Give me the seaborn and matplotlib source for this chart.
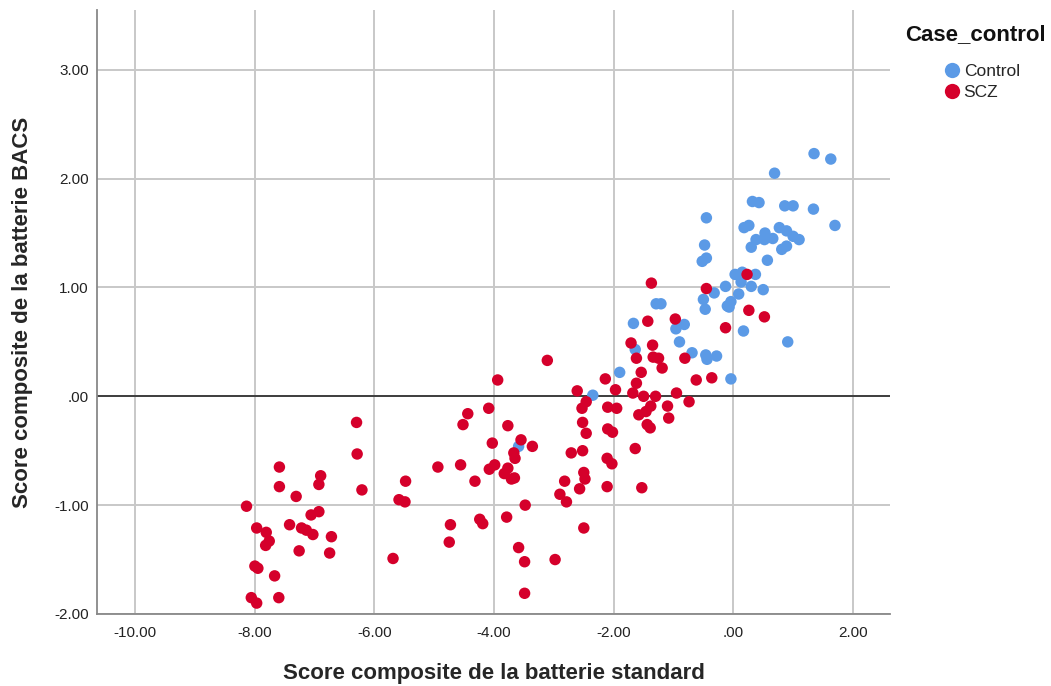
"""
Scatter: BACS composite vs standard battery composite, by group
"""
import pandas as pd
import numpy as np
import matplotlib.pyplot as plt
import seaborn as sns
from matplotlib.ticker import FuncFormatter

# Control group (standard battery, BACS)
control_x = [-2.35, -3.59, -0.45, -0.32, -0.13, -0.50, -0.47, -0.10, -1.29, -1.21,
             -1.67, -0.96, -0.82, -0.90, -1.64, -0.69, -0.46, -0.44, -0.28, -0.04,
             -1.90, 1.35, 1.63, 0.69, 0.32, 0.43, 0.86, 1.00, 1.34, -0.45,
             1.70, 0.18, 0.26, 0.77, 0.89, 0.53, 0.66, 0.52, 0.38, 1.00,
             1.10, 0.89, 0.81, 0.30, -0.48, -0.52, 0.57, 0.03, 0.15, 0.37,
             0.13, 0.30, 0.50, 0.09, -0.04, -0.07, 0.17, 0.91]
control_y = [0.01, -0.46, 1.27, 0.95, 1.01, 0.89, 0.80, 0.83, 0.85, 0.85,
             0.67, 0.62, 0.66, 0.50, 0.43, 0.40, 0.38, 0.34, 0.37, 0.16,
             0.22, 2.23, 2.18, 2.05, 1.79, 1.78, 1.75, 1.75, 1.72, 1.64,
             1.57, 1.55, 1.57, 1.55, 1.52, 1.50, 1.45, 1.44, 1.44, 1.47,
             1.44, 1.38, 1.35, 1.37, 1.39, 1.24, 1.25, 1.12, 1.14, 1.12,
             1.05, 1.01, 0.98, 0.94, 0.87, 0.82, 0.60, 0.50]

# SCZ group
scz_x = [-6.30, -6.29, -7.59, -6.90, -7.59, -6.93, -6.21, -5.48, -7.31, -5.59,
         -5.49, -8.14, -6.93, -7.06, -7.97, -7.42, -7.22, -7.14, -7.03, -7.81,
         -7.76, -7.82, -6.72, -7.26, -6.75, -5.69, -8.00, -7.95, -7.67, -8.06,
         -7.97, -7.60, -3.11, -3.94, -2.14, -2.61, -1.97, -2.46, -2.53, -2.10,
         -1.95, -4.44, -4.09, -4.52, -3.77, -2.52, -2.46, -2.10, -2.02, -4.03,
         -3.55, -3.36, -3.67, -3.65, -2.71, -2.52, -4.94, -4.56, -4.08, -3.99,
         -3.77, -3.83, -3.71, -3.66, -4.32, -2.11, -2.03, -2.50, -2.48, -2.82,
         -2.57, -2.11, -2.90, -2.79, -3.48, -4.73, -4.24, -4.19, -3.79, -2.50,
         -4.75, -3.59, -3.49, -2.98, -3.49, -1.37, -0.45, -1.43, -0.97, -0.13,
         -1.71, -1.35, -1.62, -1.34, -1.25, -1.19, -0.81, -1.54, -0.62, -0.36,
         -1.62, -1.68, -1.50, -1.30, -0.95, -0.74, -1.10, -1.08, -1.38, -1.46,
         -1.58, -1.44, -1.39, -1.64, -1.53, 0.23, 0.26, 0.52]
scz_y = [-0.24, -0.53, -0.65, -0.73, -0.83, -0.81, -0.86, -0.78, -0.92, -0.95,
         -0.97, -1.01, -1.06, -1.09, -1.21, -1.18, -1.21, -1.23, -1.27, -1.25,
         -1.33, -1.37, -1.29, -1.42, -1.44, -1.49, -1.56, -1.58, -1.65, -1.85,
         -1.90, -1.85, 0.33, 0.15, 0.16, 0.05, 0.06, -0.05, -0.11, -0.10,
         -0.11, -0.16, -0.11, -0.26, -0.27, -0.24, -0.34, -0.30, -0.33, -0.43,
         -0.40, -0.46, -0.52, -0.57, -0.52, -0.50, -0.65, -0.63, -0.67, -0.63,
         -0.66, -0.71, -0.76, -0.75, -0.78, -0.57, -0.62, -0.70, -0.76, -0.78,
         -0.85, -0.83, -0.90, -0.97, -1.00, -1.18, -1.13, -1.17, -1.11, -1.21,
         -1.34, -1.39, -1.52, -1.50, -1.81, 1.04, 0.99, 0.69, 0.71, 0.63,
         0.49, 0.47, 0.35, 0.36, 0.35, 0.26, 0.35, 0.22, 0.15, 0.17,
         0.12, 0.03, 0.00, 0.00, 0.03, -0.05, -0.09, -0.20, -0.09, -0.14,
         -0.17, -0.26, -0.29, -0.48, -0.84, 1.12, 0.79, 0.73]

groups = ['Control', 'SCZ']
colors = {'Control': '#5b9ae6', 'SCZ': '#d5002b'}
x_ticks = [-10, -8, -6, -4, -2, 0, 2]
y_ticks = [-2, -1, 0, 1, 2, 3]

df = pd.DataFrame({
    'standard': control_x + scz_x,
    'bacs': control_y + scz_y,
    'Case_control': ['Control'] * len(control_x) + ['SCZ'] * len(scz_x),
})

sns.set_style('white')
plt.rcParams['font.family'] = ['Liberation Sans', 'DejaVu Sans']

fig = plt.figure(figsize=(10.51, 6.86), dpi=100)
ax = fig.add_axes([0.0923, 0.105, 0.7545, 0.8805])

ax.grid(True, color='#c8c8c8', linewidth=1.4)
ax.set_axisbelow(True)
ax.axhline(0, color='#333333', linewidth=1.3, zorder=1.5)

sns.scatterplot(data=df, x='standard', y='bacs', hue='Case_control',
                hue_order=groups, palette=colors, s=68, linewidth=0,
                ax=ax, zorder=3, legend=False)

ax.set_xlim(-10.64, 2.62)
ax.set_ylim(-2.0, 3.55)
ax.set_xticks(x_ticks)
ax.set_yticks(y_ticks)


def spss_fmt(v, pos):
    s = f'{v:.2f}'
    if s.startswith('0.'):
        s = s[1:]
    elif s.startswith('-0.'):
        s = '-' + s[2:]
    return s


ax.xaxis.set_major_formatter(FuncFormatter(spss_fmt))
ax.yaxis.set_major_formatter(FuncFormatter(spss_fmt))
ax.tick_params(length=0, labelsize=11, colors='#222222')
ax.tick_params(axis='x', pad=9)
ax.tick_params(axis='y', pad=6)

for side in ['top', 'right']:
    ax.spines[side].set_visible(False)
for side in ['left', 'bottom']:
    ax.spines[side].set_color('#888888')
    ax.spines[side].set_linewidth(1.3)

ax.set_xlabel('Score composite de la batterie standard', fontsize=16,
              fontweight='bold', labelpad=16)
ax.set_ylabel('Score composite de la batterie BACS', fontsize=16,
              fontweight='bold', labelpad=15)

# legend, drawn as in SPSS output
fig.text(905 / 1051, 1 - 35 / 686, 'Case_control', fontsize=16,
         fontweight='bold', va='center', ha='left', color='#111111')
handles = [plt.Line2D([], [], marker='o', linestyle='', markersize=11,
                      markerfacecolor=colors[g], markeredgewidth=0)
           for g in groups]
leg = fig.legend(handles, groups, frameon=False, loc='upper left',
                 bbox_to_anchor=(935 / 1051, 1 - 55 / 686), borderpad=0,
                 fontsize=12.5, handletextpad=0.15, labelspacing=0.35,
                 handlelength=1.0)

fig.savefig('out.png', dpi=100)
plt.close()
